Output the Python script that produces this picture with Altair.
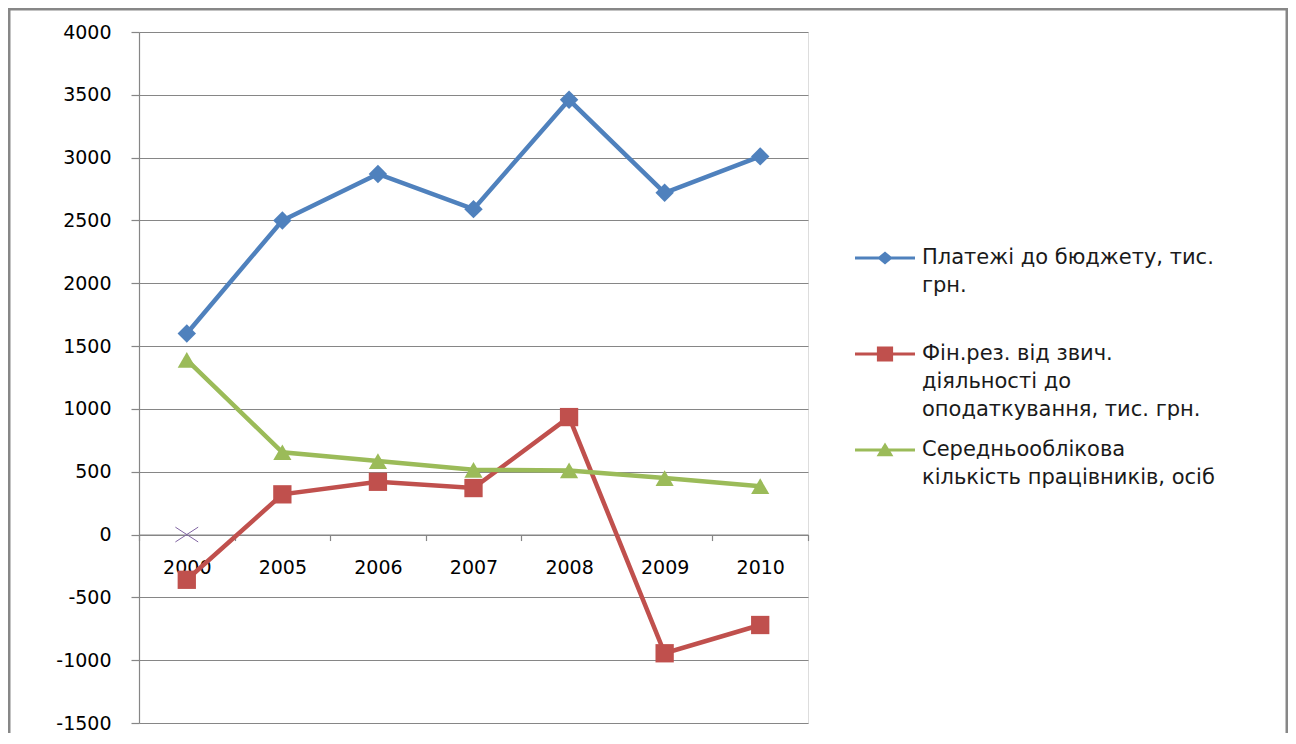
import altair as alt
import pandas as pd

years = ["2000", "2005", "2006", "2007", "2008", "2009", "2010"]
payments = [1600, 2500, 2870, 2590, 3460, 2720, 3010]
finres = [-360, 320, 420, 370, 935, -945, -720]
staff = [1390, 655, 585, 515, 510, 450, 385]
extra_years = ["2000"]
extra_values = [0]

series_names = [
    "Платежі до бюджету, тис. грн.",
    "Фін.рез. від звич. діяльності до оподаткування, тис. грн.",
    "Середньооблікова кількість працівників, осіб",
]
legend_lines = [
    ["Платежі до бюджету, тис.", "грн.", ""],
    ["Фін.рез. від звич.", "діяльності до", "оподаткування, тис. грн."],
    ["Середньооблікова", "кількість працівників, осіб"],
]
colors = ["#4F81BD", "#C0504D", "#9BBB59"]
shapes = ["diamond", "square", "triangle-up"]
sizes = [340, 330, 310]

rows = []
for name, vals in zip(series_names, [payments, finres, staff]):
    for y, v in zip(years, vals):
        rows.append({"year": y, "value": v, "series": name})
df = pd.DataFrame(rows)
df_extra = pd.DataFrame({"year": extra_years, "value": extra_values})

W, H = 669, 691
ymin, ymax = -1500, 4000
zero_offset = -H * (0 - ymin) / (ymax - ymin)

FONT = "DejaVu Sans"
GRAY = "#868686"


def js_list(lines):
    return "[" + ",".join("'" + s + "'" for s in lines) + "]"


label_expr = ""
for name, lines in zip(series_names, legend_lines):
    label_expr += f"datum.label === '{name}' ? {js_list(lines)} : "
label_expr += "datum.label"

# legend symbol paths: horizontal bar + marker (units scaled by sqrt(size)/2)
bar = "M-1,-0.05H1V0.05H-1Z"
sym_paths = [
    bar + "M0,-0.22L0.26,0L0,0.22L-0.26,0Z",
    bar + "M-0.27,-0.25H0.27V0.25H-0.27Z",
    bar + "M0,-0.25L0.28,0.21H-0.28Z",
]

legend = alt.Legend(
    orient="none",
    legendX=716,
    legendY=196,
    title=None,
    labelExpr=label_expr,
    labelFont=FONT,
    labelFontSize=21,
    labelColor="#1a1a1a",
    labelLimit=1000,
    labelOffset=7,
    symbolSize=3600,
    symbolStrokeWidth=0,
    rowPadding=0,
)

x_enc = alt.X(
    "year:N",
    sort=years,
    scale=alt.Scale(type="band", paddingInner=0, paddingOuter=0),
    bandPosition=0.5,
    axis=alt.Axis(
        title=None,
        orient="bottom",
        offset=zero_offset,
        tickBand="extent",
        grid=False,
        domainColor=GRAY,
        domainWidth=1.2,
        tickColor=GRAY,
        tickSize=6,
        tickWidth=1.2,
        labelFont=FONT,
        labelFontSize=19,
        labelColor="#000000",
        labelPadding=18,
        labelAngle=0,
    ),
)
y_enc = alt.Y(
    "value:Q",
    scale=alt.Scale(domain=[ymin, ymax], nice=False, zero=False),
    axis=alt.Axis(
        title=None,
        values=list(range(ymin, ymax + 1, 500)),
        labelExpr="'' + datum.value",
        grid=True,
        gridColor=GRAY,
        gridWidth=1.2,
        domainColor=GRAY,
        domainWidth=1.2,
        tickColor=GRAY,
        tickSize=8,
        tickWidth=1.2,
        labelFont=FONT,
        labelFontSize=19,
        labelColor="#000000",
        labelPadding=20,
    ),
)


def color_enc(leg):
    return alt.Color(
        "series:N",
        sort=series_names,
        scale=alt.Scale(domain=series_names, range=colors),
        legend=leg,
    )


lines = alt.Chart(df).mark_line(strokeWidth=4.5).encode(
    x=x_enc, y=y_enc, color=color_enc(None), order=alt.Order("year:N")
)
points = alt.Chart(df).mark_point(filled=True, opacity=1).encode(
    x=x_enc,
    y=y_enc,
    color=color_enc(None),
    shape=alt.Shape("series:N", scale=alt.Scale(domain=series_names, range=shapes), legend=None),
    size=alt.Size("series:N", scale=alt.Scale(domain=series_names, range=sizes), legend=None),
)
# legend-only layer (no rows drawn): colour + custom line-with-marker symbols
legend_layer = alt.Chart(df).transform_filter("false").mark_point(filled=True, opacity=1).encode(
    x=x_enc,
    y=y_enc,
    color=color_enc(legend),
    shape=alt.Shape("series:N", scale=alt.Scale(domain=series_names, range=sym_paths), legend=legend),
)
cross = alt.Chart(df_extra).mark_point(
    shape="M-1,-0.65L1,0.65M-1,0.65L1,-0.65", filled=False, stroke="#8064A2", strokeWidth=1, size=520, opacity=1
).encode(x=alt.X("year:N", sort=years, bandPosition=0.5), y=alt.Y("value:Q"))

frame = alt.Chart(pd.DataFrame({"k": [0]})).mark_rect(
    fill=None, stroke="#878787", strokeWidth=3
).encode(x=alt.value(-130), x2=alt.value(1148), y=alt.value(-23), y2=alt.value(740))

chart = (
    alt.layer(frame, lines, points, cross, legend_layer)
    .resolve_scale(color="independent", shape="independent", size="independent")
    .properties(
        width=W,
        height=H,
        padding={"left": 131, "top": 24, "right": 480, "bottom": 10},
        autosize="none",
    )
    .configure_view(stroke=None)
    .configure(background="white", style={"guide-label": {"lineHeight": 28}})
)

chart.save("out.html", embed_options={"renderer": "svg", "actions": False})
